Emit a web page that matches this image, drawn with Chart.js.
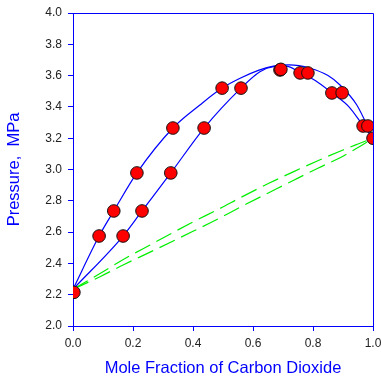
<!DOCTYPE html>
<html>
<head>
<meta charset="utf-8">
<script src="https://cdn.jsdelivr.net/npm/chart.js@4"></script>
<style>
    html, body { margin: 0; padding: 0; background: #ffffff; }
    #wrap { width: 381px; height: 380px; }
</style>
</head>
<body>
<div id="wrap"><canvas id="pxyChart" width="381" height="380"></canvas></div>
<script>
// measured points (mole fraction CO2, pressure MPa)
const measuredX = [0.003, 0.087, 0.136, 0.167, 0.213, 0.23, 0.326, 0.333, 0.437, 0.497, 0.56, 0.69, 0.693, 0.757, 0.783, 0.863, 0.897, 0.967, 0.983, 1.0];
const measuredP = [2.215, 2.575, 2.735, 2.575, 2.978, 2.735, 2.978, 3.265, 3.265, 3.52, 3.52, 3.636, 3.64, 3.617, 3.617, 3.489, 3.49, 3.278, 3.278, 3.2];

// outer (liquid) curve
const bubbleX = [0, 0.087, 0.136, 0.213, 0.333, 0.423, 0.497, 0.557, 0.62, 0.668, 0.72, 0.79, 0.85, 0.89, 0.946, 0.99, 1.0];
const bubbleP = [2.235, 2.575, 2.735, 2.978, 3.265, 3.412, 3.52, 3.583, 3.635, 3.661, 3.668, 3.647, 3.6, 3.54, 3.412, 3.242, 3.2];

// inner (vapour) curve
const dewX = [0, 0.167, 0.23, 0.326, 0.437, 0.56, 0.623, 0.668, 0.71, 0.757, 0.81, 0.863, 0.92, 0.967, 1.0];
const dewP = [2.235, 2.575, 2.735, 2.978, 3.265, 3.52, 3.625, 3.657, 3.66, 3.62, 3.565, 3.489, 3.4, 3.28, 3.2];

// green dashed curves
const upperDashX = [0, 0.09, 0.172, 0.257, 0.4, 0.484, 0.568, 0.651, 0.734, 0.818, 0.9, 0.95, 1.0];
const upperDashP = [2.235, 2.335, 2.43, 2.518, 2.665, 2.745, 2.83, 2.91, 2.985, 3.058, 3.125, 3.163, 3.2];
const lowerDashX = [0, 0.09, 0.167, 0.257, 0.4, 0.484, 0.568, 0.651, 0.734, 0.818, 0.9, 0.95, 1.0];
const lowerDashP = [2.235, 2.315, 2.39, 2.472, 2.605, 2.685, 2.77, 2.85, 2.93, 3.01, 3.085, 3.14, 3.2];

const xRange = [0, 1];
const pRange = [2, 4];
const tickStep = 0.2;

const xTitle = "Mole Fraction of Carbon Dioxide";
const yTitle = "Pressure,  MPa";

function toPoints(xs, ys) {
    return xs.map((x, i) => ({ x, y: ys[i] }));
}

function curve(xs, ys, color, dash) {
    return {
        data: toPoints(xs, ys),
        showLine: true,
        borderColor: color,
        borderWidth: 1.2,
        borderDash: dash || [],
        pointRadius: 0,
        cubicInterpolationMode: "monotone",
        fill: false,
        order: 2,
    };
}

// top and right frame lines
const frameBox = {
    id: "frameBox",
    afterDraw(chart) {
        const { ctx, chartArea } = chart;
        ctx.save();
        ctx.strokeStyle = "#0000ff";
        ctx.lineWidth = 1;
        ctx.beginPath();
        ctx.moveTo(chartArea.left, chartArea.top + 0.5);
        ctx.lineTo(chartArea.right + 0.5, chartArea.top + 0.5);
        ctx.lineTo(chartArea.right + 0.5, chartArea.bottom);
        ctx.stroke();
        ctx.restore();
    }
};

const axisFont = { family: "Arial, 'Liberation Sans', sans-serif", size: 12 };
const titleFont = { family: "Arial, 'Liberation Sans', sans-serif", size: 16.5 };

new Chart(document.getElementById("pxyChart").getContext("2d"), {
    type: "scatter",
    data: {
        datasets: [
            {
                data: toPoints(measuredX, measuredP),
                pointRadius: 6.3,
                pointBackgroundColor: "#ff0000",
                pointBorderColor: "#111111",
                pointBorderWidth: 1,
                showLine: false,
                order: 0,
            },
            curve(bubbleX, bubbleP, "#0000ff"),
            curve(dewX, dewP, "#0000ff"),
            curve(upperDashX, upperDashP, "#00ee00", [17, 7]),
            curve(lowerDashX, lowerDashP, "#00ee00", [17, 7]),
        ]
    },
    options: {
        responsive: false,
        animation: false,
        layout: { padding: { left: 0, top: 13, right: 8, bottom: 0 } },
        plugins: {
            legend: { display: false },
            tooltip: { enabled: false }
        },
        scales: {
            x: {
                type: "linear",
                min: xRange[0],
                max: xRange[1],
                afterFit(scale) {
                    scale.height = 54;
                    scale.paddingLeft = 0;
                    scale.paddingRight = 8;
                },
                ticks: {
                    stepSize: tickStep,
                    padding: 5,
                    color: "#222222",
                    font: axisFont,
                    callback: (v) => Number(v).toFixed(1)
                },
                grid: { drawOnChartArea: false, tickLength: 5, color: "#0000ff", lineWidth: 1 },
                border: { color: "#0000ff", width: 1 },
                title: {
                    display: true,
                    text: xTitle,
                    color: "#0000ff",
                    font: titleFont,
                    padding: { top: 0, bottom: 2 }
                }
            },
            y: {
                type: "linear",
                min: pRange[0],
                max: pRange[1],
                afterFit(scale) {
                    scale.width = 73;
                    scale.paddingTop = 0;
                    scale.paddingBottom = 0;
                },
                ticks: {
                    stepSize: tickStep,
                    padding: 6,
                    color: "#222222",
                    font: axisFont,
                    callback: (v) => Number(v).toFixed(1)
                },
                grid: { drawOnChartArea: false, tickLength: 5, color: "#0000ff", lineWidth: 1 },
                border: { color: "#0000ff", width: 1 },
                title: {
                    display: true,
                    text: yTitle,
                    color: "#0000ff",
                    font: titleFont,
                    padding: { top: 5, bottom: 0 }
                }
            }
        }
    },
    plugins: [frameBox]
});
</script>
</body>
</html>
